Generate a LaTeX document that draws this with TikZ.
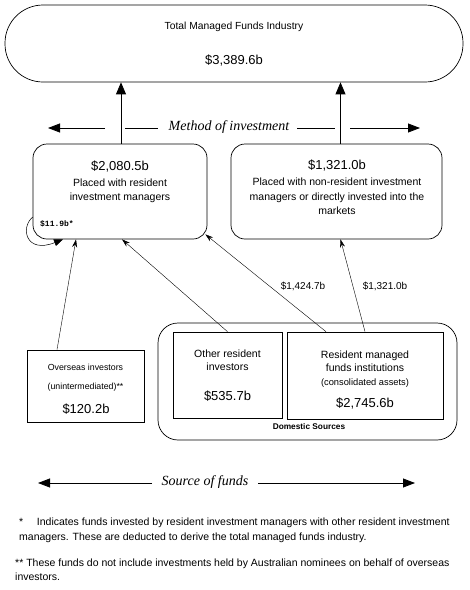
\documentclass[tikz,border=0pt]{standalone}
\usepackage{fontspec}
\setmainfont{Liberation Sans}
\setmonofont{Liberation Mono}
\newfontfamily\headfont{Liberation Serif}
\usetikzlibrary{arrows.meta}

\begin{document}
\begin{tikzpicture}[
          x=1pt, y=-1pt,
          every node/.style={align=center, inner sep=0pt, font=\fontsize{10.5}{13}\selectfont},
          box/.style={draw, line width=0.7pt, rounded corners=14pt},
          sqbox/.style={draw, line width=0.7pt},
          amount/.style={font=\fontsize{13}{15}\selectfont},
          heading/.style={font=\headfont\itshape\fontsize{14}{16}\selectfont},
          bigarrow/.style={-{Triangle[length=12pt, width=10pt]}, line width=0.8pt},
          flow/.style={-{Stealth[length=8pt, width=5pt]}, line width=0.4pt},
          axis/.style={line width=0.8pt}
        ]
        \useasboundingbox (0,0) rectangle (470,590);

        % top
        \node[box, rounded corners=38pt, minimum width=458pt, minimum height=77pt] (total) at (234,43.5) {};
        \node[font=\fontsize{10.3}{12}\selectfont] (totaltitle) at (234,27) {Total Managed Funds Industry};
        \node[amount] (totalval) at (234,61) {\$3,389.6b};

        % method of investment
        \node[box, minimum width=174pt, minimum height=95pt] (resmgr) at (120,191.5) {};
        \node[amount] (resmgrval) at (120,167) {\$2,080.5b};
        \node[font=\fontsize{10.5}{14}\selectfont] (resmgrtxt) at (120,191) {Placed with resident\\investment managers};

        \node[box, minimum width=211pt, minimum height=95pt] (offshore) at (336.5,191.5) {};
        \node[amount] (offshoreval) at (337,166) {\$1,321.0b};
        \node[font=\fontsize{10.5}{14.5}\selectfont] (offshoretxt) at (337,196.5) {Placed with non-resident investment\\managers or directly invested into the\\markets};

        \node[heading] (methodlbl) at (229,127) {Method of investment};
        \draw[axis, -{Triangle[length=12pt, width=9pt]}] (105,128) -- (48,128);
        \draw[axis] (125,128) -- (158,128);
        \draw[axis] (297,128) -- (335,128);
        \draw[axis, -{Triangle[length=12pt, width=9pt]}] (350,128) -- (420,128);

        \draw[bigarrow] ([xshift=1pt]resmgr.north) -- ([xshift=1pt]resmgr.north |- total.south);
        \draw[bigarrow] ([xshift=4pt]offshore.north) -- ([xshift=4pt]offshore.north |- total.south);

        % sources
        \node[sqbox, minimum width=117pt, minimum height=72pt] (overseas) at (85.5,386) {};
        \node[font=\fontsize{8.8}{10}\selectfont] (overseastxt) at (85.5,377.5) {Overseas investors\\[9pt](unintermediated)**};
        \node[amount] (overseasval) at (86,409) {\$120.2b};

        \node[box, rounded corners=20pt, minimum width=299pt, minimum height=117pt] (domestic) at (307.5,381.5) {};
        \node[font=\bfseries\fontsize{8.3}{9}\selectfont] (domesticlbl) at (309,427) {Domestic Sources};

        \node[sqbox, minimum width=109pt, minimum height=86pt] (othres) at (227.5,375) {};
        \node (othrestxt) at (227.5,360) {Other resident\\investors};
        \node[amount] (othresval) at (227.5,396) {\$535.7b};

        \node[sqbox, minimum width=156pt, minimum height=87pt] (rmf) at (365,375.5) {};
        \node (rmftxt) at (365,361) {Resident managed\\funds institutions};
        \node[font=\fontsize{9.3}{10}\selectfont] (rmfnote) at (365,383) {(consolidated assets)};
        \node[amount] (rmfval) at (365,404) {\$2,745.6b};

        % flows
        \draw[flow] ([xshift=-28.5pt]overseas.north) -- ([xshift=-44pt]resmgr.south);
        \draw[flow] (othres.north) -- ([xshift=2pt]resmgr.south);
        \draw[flow] ([xshift=-39pt]rmf.north) -- ([shift={(-2,-5)}]resmgr.south east);
        \draw[flow] (rmf.north) -- ([xshift=4pt]offshore.south);
        \node[font=\fontsize{10}{11}\selectfont] (intraval) at (303,286) {\$1,424.7b};
        \node[font=\fontsize{10}{11}\selectfont] (directval) at (385,286) {\$1,321.0b};

        \draw[line width=0.5pt, -{Triangle[length=9pt, width=7pt]}] ([yshift=-25.5pt]resmgr.west) .. controls (20,228) and (26,254) .. ([xshift=-57pt]resmgr.south);
        \node[font=\ttfamily\bfseries\fontsize{8}{10}\selectfont] (loopval) at (57,224) {\$11.9b*};

        % source of funds
        \node[heading] (sourcelbl) at (205,482) {Source of funds};
        \draw[axis, -{Triangle[length=12pt, width=9pt]}] (152,483) -- (38,483);
        \draw[axis, -{Triangle[length=12pt, width=9pt]}] (258,483) -- (415,483);

        % notes
        \node[anchor=west, align=left, font=\fontsize{10.5}{15}\selectfont] (note1) at (19,530.5)
            {*\hspace{1.3em}Indicates funds invested by resident investment managers with other resident investment\\managers. These are deducted to derive the total managed funds industry.};
        \node[anchor=west, align=left, font=\fontsize{10.5}{14}\selectfont] (note2) at (15,570)
            {** These funds do not include investments held by Australian nominees on behalf of overseas\\investors.};
        
        \end{tikzpicture}
\end{document}
